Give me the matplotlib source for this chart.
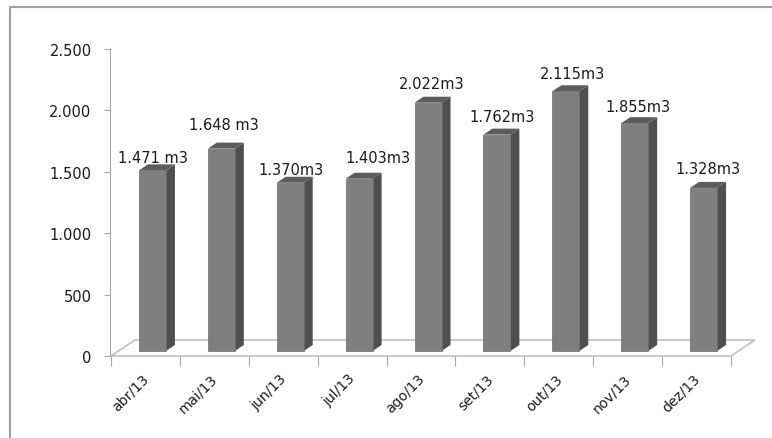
import matplotlib
matplotlib.use("Agg")
import matplotlib.pyplot as plt
from matplotlib.patches import Polygon, Rectangle
from matplotlib.lines import Line2D

# data
meses = ['abr/13', 'mai/13', 'jun/13', 'jul/13', 'ago/13', 'set/13', 'out/13', 'nov/13', 'dez/13']
volumes = [1471, 1648, 1370, 1403, 2022, 1762, 2115, 1855, 1328]
rotulos = ['1.471 m3', '1.648 m3', '1.370m3', '1.403m3', '2.022m3', '1.762m3', '2.115m3', '1.855m3', '1.328m3']
yticks = [0, 500, 1000, 1500, 2000, 2500]

# label nudges in pixels (manual placement like in the original sheet)
lbl_dx = [0, 3, 1, 19, 4, 5, 7, 3, 4]
lbl_dy = [13, 24, 13, 21, 19, 18, 18, 17, 19]

W, H = 772, 439
fig = plt.figure(figsize=(W / 100, H / 100), dpi=100)
plt.rcParams['font.family'] = ['DejaVu Sans']

x0, x1, y0, y1 = 111, 731, 357, 50
ax = fig.add_axes([x0 / W, (H - y0) / H, (x1 - x0) / W, (y0 - y1) / H])
ax.set_xlim(-0.5, len(meses) - 0.5)
ax.set_ylim(0, 2500)

pxx = (len(meses)) / (x1 - x0)   # data units per pixel
pxy = 2500 / (y0 - y1)

# floor
fdx, fdy = 24 * pxx, 16 * pxy
n = len(meses)
floor = Polygon([(-0.5, 0), (n - 0.5, 0), (n - 0.5 + fdx, fdy), (-0.5 + fdx, fdy)],
                closed=True, facecolor='white', edgecolor='#c0c0c0', lw=1.2, clip_on=False, zorder=1)
ax.add_patch(floor)

# bars
bw = 27 * pxx
boff = -6.5 * pxx
base = 5 * pxy
ddx, ddy = 9 * pxx, 6 * pxy
for i, v in enumerate(volumes):
    left = i + boff
    right = left + bw
    top = base + v
    ax.add_patch(Polygon([(right, base), (right + ddx, base + ddy), (right + ddx, top + ddy), (right, top)],
                         closed=True, facecolor='#4f4f4f', edgecolor='none', clip_on=False, zorder=3))
    ax.add_patch(Polygon([(left, top), (left + ddx, top + ddy), (right + ddx, top + ddy), (right, top)],
                         closed=True, facecolor='#5c5c5c', edgecolor='none', clip_on=False, zorder=3))
    ax.add_patch(Rectangle((left, base), bw, v, facecolor='#7f7f7f', edgecolor='#6a6a6a', lw=0.5,
                           clip_on=False, zorder=4))
    ax.annotate(rotulos[i], xy=(left + bw / 2, top), xytext=(lbl_dx[i], lbl_dy[i]),
                textcoords='offset pixels', ha='center', va='center', fontsize=10.5,
                color='#1a1a1a', zorder=5, annotation_clip=False)

# axes styling
for s in ['top', 'right', 'bottom']:
    ax.spines[s].set_visible(False)
ax.spines['left'].set_color('#a6a6a6')
ax.spines['left'].set_bounds(0, 2500)
ax.spines['left'].set_position(('outward', 1))
ax.set_yticks(yticks)
ax.set_yticklabels([f"{t:,}".replace(',', '.') for t in yticks], fontsize=10.5, color='#1a1a1a')
ax.tick_params(axis='y', length=4, color='#a6a6a6', pad=9)

ax.set_xticks([i - 0.5 for i in range(n + 1)])
ax.set_xticklabels([])
ax.tick_params(axis='x', length=7, color='#a6a6a6')
for i, m in enumerate(meses):
    ax.annotate(m, xy=(i, 0), xytext=(1, -20), textcoords='offset pixels', ha='right', va='center',
                rotation=45, rotation_mode='anchor', fontsize=10, color='#1a1a1a', annotation_clip=False)

# outer frame (chart area border, cropped at right and bottom)
fig.add_artist(Line2D([10 / W, 10 / W], [1 - 8 / H, 0], color='#a0a0a0', lw=1.5))
fig.add_artist(Line2D([10 / W, 1], [1 - 8 / H, 1 - 8 / H], color='#a0a0a0', lw=1.5))

fig.savefig('out.png', dpi=100)
